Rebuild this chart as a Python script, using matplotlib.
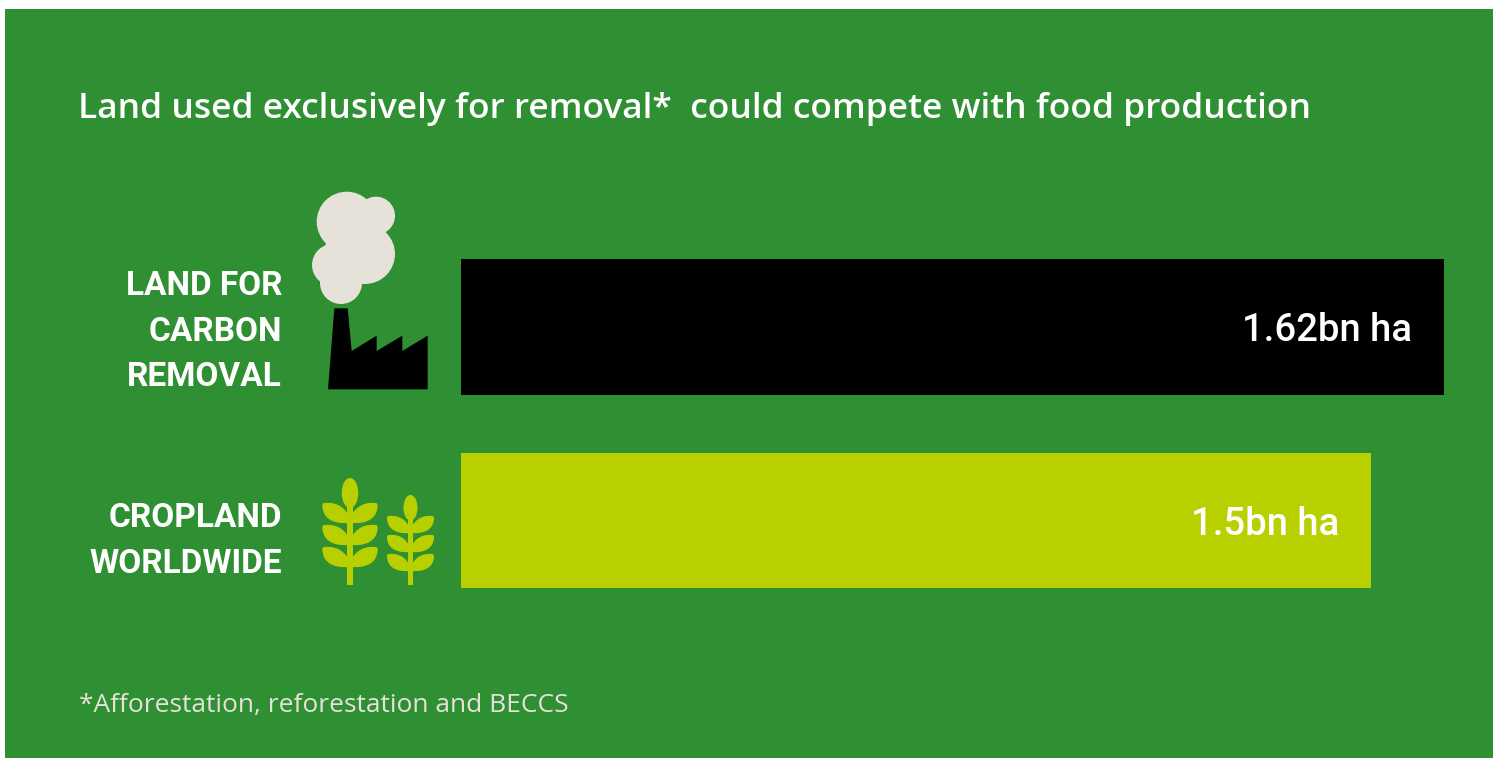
import matplotlib
matplotlib.use("Agg")
import matplotlib.pyplot as plt
from matplotlib.patches import Circle, Ellipse, PathPatch, Polygon, Rectangle
from matplotlib.path import Path

plt.rcParams["font.family"] = "Roboto"

# data
categories = ["LAND FOR\nCARBON\nREMOVAL", "CROPLAND\nWORLDWIDE"]
values = [1.62, 1.5]
value_labels = ["1.62bn ha", "1.5bn ha"]
title = "Land used exclusively for removal*  could compete with food production"
footnote = "*Afforestation, reforestation and BECCS"

GREEN = "#2f8f33"
LIME = "#b9d000"
CREAM = "#e6e1d9"
W, H = 1493, 758

fig = plt.figure(figsize=(W / 100, H / 100), dpi=100, facecolor="white")

# background layer in pixel coordinates, for the panel, icons and texts
bg = fig.add_axes([0, 0, 1, 1])
bg.set_xlim(0, W)
bg.set_ylim(H, 0)
bg.axis("off")
bg.add_patch(Rectangle((5, 9), W - 5, H - 9, fc=GREEN, ec="none"))

bg.text(78, 118, title, color="white", fontsize=25.5, fontfamily="Open Sans", fontweight="semibold", ha="left", va="baseline")
bg.text(79, 712, footnote, color=CREAM, fontsize=19, fontfamily="Open Sans", ha="left", va="baseline")

# labels left of the bars
bg.text(282, 295, "LAND FOR", color="white", fontsize=24, fontweight="bold", ha="right", va="baseline")
bg.text(282, 341, "CARBON", color="white", fontsize=24, fontweight="bold", ha="right", va="baseline")
bg.text(282, 386, "REMOVAL", color="white", fontsize=24, fontweight="bold", ha="right", va="baseline")
bg.text(282, 527, "CROPLAND", color="white", fontsize=24, fontweight="bold", ha="right", va="baseline")
bg.text(282, 573, "WORLDWIDE", color="white", fontsize=24, fontweight="bold", ha="right", va="baseline")

# smoke
for cx, cy, r in [(346.7, 221.7, 30), (376, 215.7, 19), (365, 254, 30), (333, 265, 21), (341, 283, 21), (350, 250, 25)]:
    bg.add_patch(Circle((cx, cy), r, fc=CREAM, ec="none"))

# factory
factory = [(103, 385), (143, 385), (155, 513), (230, 467), (230, 513), (307, 467),
           (307, 513), (383, 467), (383, 628), (84, 628)]
bg.add_patch(Polygon([(300 + x / 3, 180 + y / 3) for x, y in factory], fc="black", ec="none"))


def wheat(cx, top, bottom, leaf_y, s):
    # stem
    bg.add_patch(Rectangle((cx - 3.3 * s, top + 20), 6.6 * s, bottom - top - 20, fc=LIME, ec="none"))
    # top grain
    bg.add_patch(Ellipse((cx, top + 15 * s), 16.5 * s, 30 * s, fc=LIME, ec="none"))
    for y in leaf_y:
        for d in (-1, 1):
            verts = [(cx + d * 2, y - 9 * s),
                     (cx + d * 8 * s, y - 18 * s), (cx + d * 16 * s, y - 21 * s), (cx + d * 26 * s, y - 20 * s),
                     (cx + d * 28.5 * s, y - 19.5 * s), (cx + d * 28 * s, y - 15 * s), (cx + d * 26 * s, y - 10 * s),
                     (cx + d * 23 * s, y - 3 * s), (cx + d * 14 * s, y + 1 * s), (cx + d * 2, y),
                     (cx + d * 2, y - 9 * s)]
            codes = [Path.MOVETO, Path.CURVE4, Path.CURVE4, Path.CURVE4,
                     Path.CURVE4, Path.CURVE4, Path.CURVE4,
                     Path.CURVE4, Path.CURVE4, Path.CURVE4, Path.CLOSEPOLY]
            bg.add_patch(PathPatch(Path(verts, codes), fc=LIME, ec="none"))


wheat(350, 478, 585, [523, 545, 567], 1.0)
wheat(410.5, 495, 585, [533, 552, 571], 0.85)

# bars
ax = fig.add_axes([461 / W, 1 - 588 / H, (1444 - 461) / W, (588 - 259) / H])
ax.patch.set_alpha(0)
ax.barh([0, 1], values, height=0.7, color=["black", LIME])
ax.set_xlim(0, max(values))
ax.set_ylim(1.349, -0.351)
ax.axis("off")
for i in range(len(values)):
    ax.annotate(value_labels[i], xy=(values[i], i), xytext=(-32, -4), textcoords="offset pixels",
                color="white", fontsize=27.5, fontweight="medium", ha="right", va="center")

fig.savefig("out.png", dpi=100)
